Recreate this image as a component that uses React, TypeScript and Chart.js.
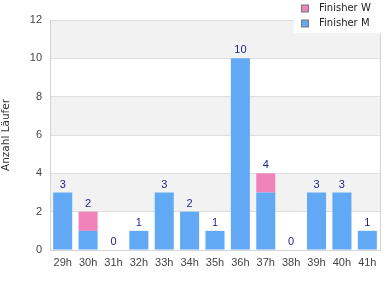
import React, { useEffect, useRef } from "react";
import { Chart, registerables } from "chart.js";
Chart.register(...registerables);

const categories = ["29h", "30h", "31h", "32h", "33h", "34h", "35h", "36h", "37h", "38h", "39h", "40h", "41h"];
const finisherM = [3, 1, 0, 1, 3, 2, 1, 10, 3, 0, 3, 3, 1];
const finisherW = [0, 1, 0, 0, 0, 0, 0, 0, 1, 0, 0, 0, 0];
const yMin = 0;
const yMax = 12;
const yStep = 2;
const bandRanges = [[2, 4], [6, 8], [10, 12]];
const seriesNames = ["Finisher M", "Finisher W"];
const legendOrder = ["Finisher W", "Finisher M"];
const yTitle = "Anzahl Läufer";

const COLOR_M = "#62a9f5";
const COLOR_W = "#f183bb";

export default function App() {
  const ref = useRef<HTMLCanvasElement | null>(null);

  useEffect(() => {
    if (!ref.current) return;
    const colors: Record<string, string> = { "Finisher M": COLOR_M, "Finisher W": COLOR_W };

    const bandsPlugin = {
      id: "bands",
      beforeDraw(chart: any) {
        const { ctx, chartArea, scales } = chart;
        const y = scales.y;
        ctx.save();
        ctx.fillStyle = "#f2f2f2";
        bandRanges.forEach(([a, b]) => {
          const y1 = y.getPixelForValue(b);
          const y2 = y.getPixelForValue(a);
          ctx.fillRect(chartArea.left, y1, chartArea.right - chartArea.left, y2 - y1);
        });
        ctx.restore();
      },
      afterDraw(chart: any) {
        const { ctx, chartArea } = chart;
        ctx.save();
        ctx.strokeStyle = "#d4d4d4";
        ctx.lineWidth = 1;
        ctx.beginPath();
        ctx.moveTo(chartArea.right + 0.5, chartArea.top);
        ctx.lineTo(chartArea.right + 0.5, chartArea.bottom);
        ctx.stroke();
        ctx.restore();
      },
    };

    const labelsPlugin = {
      id: "totals",
      afterDatasetsDraw(chart: any) {
        const { ctx, scales } = chart;
        const meta = chart.getDatasetMeta(0);
        ctx.save();
        ctx.font = "11px 'Liberation Sans', Arial, sans-serif";
        ctx.fillStyle = "#1f1f8a";
        ctx.textAlign = "center";
        ctx.textBaseline = "alphabetic";
        categories.forEach((_, i) => {
          const total = finisherM[i] + finisherW[i];
          const x = meta.data[i].x;
          const y = scales.y.getPixelForValue(total);
          ctx.fillText(String(total), x, y - 5);
        });
        ctx.restore();
      },
    };

    const legendPlugin = {
      id: "customLegend",
      afterDraw(chart: any) {
        const { ctx } = chart;
        ctx.save();
        ctx.fillStyle = "#ffffff";
        ctx.fillRect(294, 0, 96, 33);
        ctx.font = "10px 'DejaVu Sans', sans-serif";
        ctx.textBaseline = "middle";
        ctx.textAlign = "left";
        legendOrder.forEach((name, i) => {
          const cy = 8.5 + i * 15;
          ctx.fillStyle = colors[name];
          ctx.fillRect(301.5, cy - 3.5, 7, 7);
          ctx.strokeStyle = "#777777";
          ctx.lineWidth = 1;
          ctx.strokeRect(301.5, cy - 3.5, 7, 7);
          ctx.fillStyle = "#222222";
          ctx.fillText(name, 319, cy);
        });
        ctx.restore();
      },
    };

    const chart = new Chart(ref.current, {
      type: "bar",
      data: {
        labels: categories,
        datasets: [
          {
            label: seriesNames[0],
            data: finisherM,
            backgroundColor: COLOR_M,
            barPercentage: 0.75,
            categoryPercentage: 1,
            stack: "s",
          },
          {
            label: seriesNames[1],
            data: finisherW,
            backgroundColor: COLOR_W,
            barPercentage: 0.75,
            categoryPercentage: 1,
            stack: "s",
          },
        ],
      },
      options: {
        responsive: false,
        animation: false,
        layout: { padding: { top: 20, right: 10, left: 0, bottom: 0 } },
        plugins: {
          legend: { display: false },
          tooltip: { enabled: false },
        },
        scales: {
          x: {
            stacked: true,
            grid: { display: false, drawTicks: false },
            border: { display: true, color: "#d4d4d4" },
            ticks: {
              color: "#444444",
              font: { family: "'Liberation Sans', Arial, sans-serif", size: 11 },
              padding: 6,
              maxRotation: 0,
              autoSkip: false,
            },
            afterFit(scale: any) {
              scale.height = 50;
            },
          },
          y: {
            stacked: true,
            min: yMin,
            max: yMax,
            grid: { color: "#dedede", drawTicks: false },
            border: { display: true, color: "#d4d4d4" },
            ticks: {
              stepSize: yStep,
              color: "#444444",
              font: { family: "'Liberation Sans', Arial, sans-serif", size: 11 },
              padding: 8,
            },
            title: {
              display: true,
              text: yTitle,
              color: "#333333",
              font: { family: "'DejaVu Sans', sans-serif", size: 10.5 },
              padding: 0,
            },
            afterFit(scale: any) {
              scale.width = 50;
            },
          },
        },
      },
      plugins: [bandsPlugin, labelsPlugin, legendPlugin],
    } as any);

    return () => chart.destroy();
  }, []);

  return (
    <div style={{ position: "absolute", left: 0, top: 0, width: 390, height: 300 }}>
      <canvas ref={ref} width={390} height={300} />
    </div>
  );
}
